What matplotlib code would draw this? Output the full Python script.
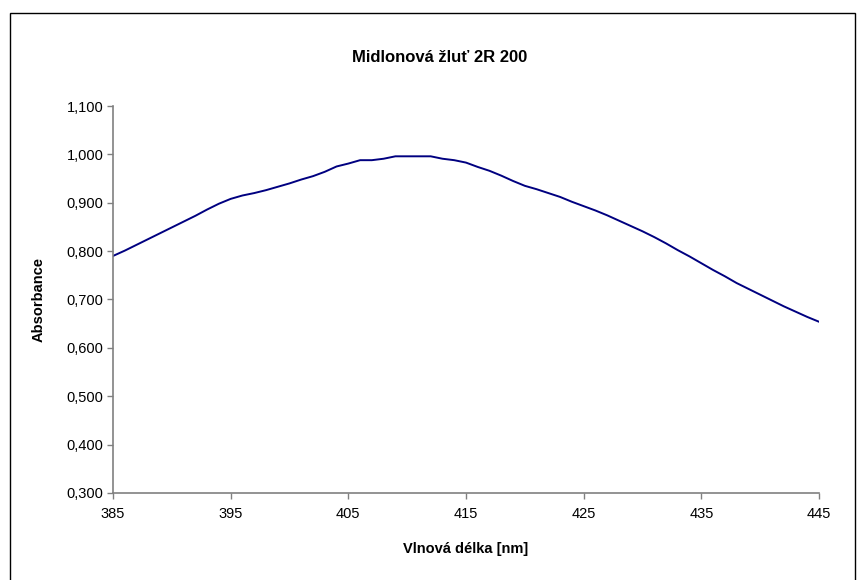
import matplotlib
matplotlib.use("Agg")
import matplotlib.pyplot as plt
from matplotlib.ticker import FuncFormatter, MultipleLocator, FixedLocator
from matplotlib.patches import Rectangle

wavelength = list(range(385, 446))
absorbance = [
    0.790, 0.801, 0.813, 0.825, 0.837, 0.849, 0.861, 0.873, 0.886, 0.898,
    0.908, 0.915, 0.920, 0.926, 0.933, 0.940, 0.948, 0.955, 0.964, 0.975,
    0.981, 0.988, 0.988, 0.991, 0.996, 0.996, 0.996, 0.996, 0.991, 0.988,
    0.983, 0.974, 0.966, 0.956, 0.945, 0.935, 0.928, 0.920, 0.912, 0.902,
    0.893, 0.884, 0.874, 0.863, 0.852, 0.841, 0.829, 0.816, 0.802, 0.789,
    0.775, 0.761, 0.748, 0.734, 0.722, 0.710, 0.698, 0.686, 0.675, 0.664,
    0.654,
]
x_ticks = [385, 395, 405, 415, 425, 435, 445]
title = "Midlonová žluť 2R 200"
xlabel = "Vlnová délka [nm]"
ylabel = "Absorbance"

plt.rcParams['font.family'] = ['Liberation Sans', 'DejaVu Sans']

fig = plt.figure(figsize=(8.61, 5.80), dpi=100)
ax = fig.add_axes([113/861, 1-493/580, (819-113)/861, (493-106)/580])

ax.plot(wavelength, absorbance, color='#000080', lw=1.4)

ax.set_xlim(385, 445)
ax.set_ylim(0.3, 1.1)
ax.xaxis.set_major_locator(FixedLocator(x_ticks))
ax.yaxis.set_major_locator(MultipleLocator(0.1))
ax.yaxis.set_major_formatter(FuncFormatter(lambda v, p: f"{v:.3f}".replace('.', ',')))

for s in ['top', 'right']:
    ax.spines[s].set_visible(False)
for s in ['left', 'bottom']:
    ax.spines[s].set_color('#808080')
    ax.spines[s].set_linewidth(1.2)
ax.tick_params(axis='both', direction='out', length=4, width=1, color='#808080',
               labelsize=10.5, labelcolor='black', pad=3)
ax.tick_params(axis='x', pad=6)

ax.set_xlabel(xlabel, fontsize=10.5, fontweight='bold', labelpad=15)
ax.set_ylabel(ylabel, fontsize=10.5, fontweight='bold', labelpad=15)

fig.text(440/861, 1-58/580, title, ha='center', va='center', fontsize=12, fontweight='bold')

fig.patches.append(Rectangle((10/861, -0.05), (855-10)/861, 1.05 - 13/580,
                             transform=fig.transFigure, fill=False, edgecolor='black', lw=1))

fig.savefig('out.png', dpi=100)
